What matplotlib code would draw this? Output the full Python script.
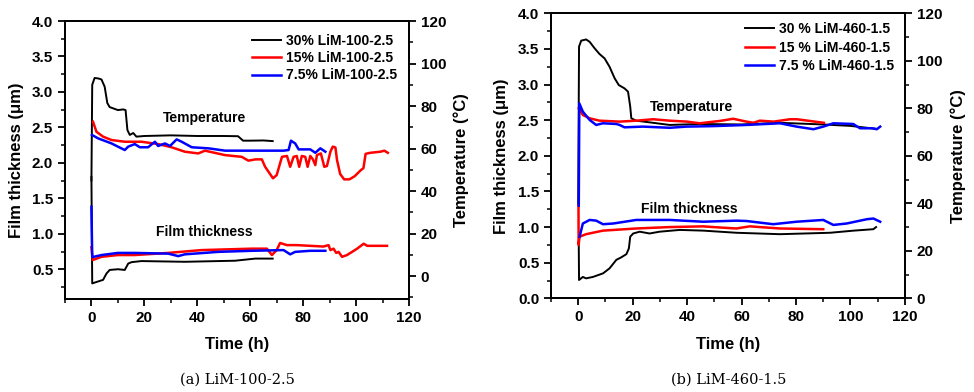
import matplotlib
matplotlib.use("Agg")
import matplotlib.pyplot as plt
from matplotlib.ticker import MultipleLocator

plt.rcParams.update({
    "font.family": "Liberation Sans",
    "font.weight": "bold",
    "font.size": 11,
    "axes.linewidth": 1.3,
    "xtick.direction": "out",
    "ytick.direction": "out",
    "xtick.major.width": 1.3,
    "ytick.major.width": 1.3,
    "xtick.minor.width": 1.1,
    "ytick.minor.width": 1.1,
    "xtick.major.size": 5,
    "ytick.major.size": 5,
    "xtick.minor.size": 3,
    "ytick.minor.size": 3,
})

BLACK, RED, BLUE = "#000000", "#ff0000", "#0000ff"
LW = {BLACK: 1.4, RED: 1.8, BLUE: 1.8}

# ---- (a) LiM-100-2.5 ---------------------------------------------------
a_labels = ["30% LiM-100-2.5", "15% LiM-100-2.5", "7.5% LiM-100-2.5"]

a_t_temp_30 = [0, 0.3, 1.2, 2.5, 3.8, 5, 6, 6.9, 8, 10, 12, 12.9, 13.6, 14.5,
               15.8, 17, 20, 30, 40, 50, 55.4, 57.3, 60, 65, 68.5]
a_temp_30 = [45, 90, 93.2, 93, 92.5, 89.1, 81.4, 79.5, 79, 78.1, 78.4, 78.1,
             68.7, 66.4, 67.3, 65.6, 65.9, 66.2, 65.9, 65.9, 65.8, 63.7, 63.7,
             63.8, 63.5]

a_t_temp_15 = [0.6, 1.9, 4.4, 7.6, 12.6, 18.9, 25.2, 30.3, 35.3, 40.4, 42.9,
               50.5, 56.8, 59.3, 62, 64.4, 65.6, 68.6, 70, 72, 73.9, 75.1,
               76.4, 77.6, 78.5, 79.5, 80.8, 81.7, 82.7, 83.7, 84.6, 85.2,
               86.7, 88, 89, 90.3, 91.2, 92.2, 92.8, 94, 95.5, 97.5, 99.5,
               101.6, 102.8, 103.6, 105.4, 109.2, 110.7, 112]
a_temp_15 = [72.6, 67.9, 65.6, 64, 63.2, 63.2, 62.1, 60.6, 58.5, 57.7, 59,
             56.9, 56.1, 54.3, 54.9, 54.9, 51.5, 46, 47.5, 56.1, 56.5, 51.4,
             56.1, 56.5, 51.4, 56.5, 56.1, 51.4, 56.5, 54.9, 52.2, 56.9,
             57.7, 51.4, 51.8, 58.5, 60.9, 60.5, 54.6, 48, 45.5, 45.5, 47,
             49.6, 50.8, 57.5, 58, 58.5, 59, 58]

a_t_temp_75 = [0.2, 2.5, 7.6, 10, 12.6, 13.9, 16.4, 18.3, 21.4, 24, 25.2,
               27.8, 29.7, 32.2, 34.1, 37.9, 44.2, 50.5, 60.6, 72.6, 74.5,
               75.4, 77, 78.3, 82.7, 84.6, 86.5, 88.4]
a_temp_75 = [66.4, 64.8, 62.4, 60.9, 59.3, 60.9, 62.1, 60.6, 60.6, 63.2, 61.2,
             62.4, 61.2, 64.3, 63.2, 60.6, 60.1, 59, 59, 59, 59.3, 63.7, 62.4,
             59.6, 59.6, 58, 60.1, 58.5]

a_t_th_30 = [0, 0.3, 1.9, 4.4, 5.7, 6.9, 10, 12.6, 13.9, 15.2, 18.9, 35.3,
             54.3, 61.9, 68.5]
a_th_30 = [1.8, 0.3, 0.32, 0.35, 0.44, 0.49, 0.50, 0.49, 0.58, 0.60, 0.615,
           0.605, 0.62, 0.65, 0.65]

a_t_th_15 = [0, 0.5, 3.8, 10, 16.4, 29, 41.7, 60.6, 66.3, 68.2, 70, 71.3,
             73.9, 77.6, 82.7, 87.7, 89.6, 90.3, 91.5, 92.5, 93.4, 94.7,
             96.6, 100.4, 102.9, 104.2, 111.7]
a_th_15 = [0.81, 0.63, 0.675, 0.70, 0.70, 0.73, 0.77, 0.79, 0.79, 0.70, 0.77,
           0.87, 0.84, 0.84, 0.83, 0.82, 0.84, 0.77, 0.79, 0.73, 0.745,
           0.675, 0.70, 0.79, 0.86, 0.83, 0.83]

a_t_th_75 = [0, 0.3, 3.8, 10, 16.4, 29, 32.8, 35.3, 48, 60.6, 72.6, 75.1,
             77, 82.7, 88.4]
a_th_75 = [1.38, 0.67, 0.70, 0.73, 0.73, 0.72, 0.685, 0.71, 0.745, 0.76,
           0.77, 0.71, 0.745, 0.76, 0.76]

# ---- (b) LiM-460-1.5 ---------------------------------------------------
b_labels = ["30 % LiM-460-1.5", "15 % LiM-460-1.5", "7.5 % LiM-460-1.5"]

b_t_temp_30 = [0, 0.3, 1.1, 2.9, 4.2, 6, 7.8, 9.7, 11.5, 13.4, 14.9, 17,
               18.3, 19.1, 19.5, 21.3, 27.5, 33.6, 44.7, 60, 74, 90, 100,
               109.2]
b_temp_30 = [40, 106, 108.5, 109, 108, 105.3, 102.9, 101, 97.5, 92.6, 89.8,
             88.4, 87, 80.7, 75.8, 74.8, 73.9, 73, 73.4, 73.2, 73.9, 73.2,
             72.6, 71.4]

b_t_temp_15 = [0.2, 1.7, 4.2, 7.8, 15.2, 21.3, 27.5, 33.6, 39.9, 44.6, 52.1,
               56.9, 61.8, 64.4, 66.7, 71.8, 77.8, 80.3, 90.2]
b_temp_15 = [80, 77.2, 75.8, 74.8, 74.4, 74.8, 75.4, 74.8, 74.4, 73.7, 74.7,
             75.6, 74.4, 73.9, 74.8, 74.4, 75.4, 75.4, 73.9]

b_t_temp_75 = [0.2, 0.4, 1.7, 4.2, 6.6, 9.1, 14, 15.2, 17, 23.8, 33.6, 39.7,
               49.5, 61.8, 74.1, 80.2, 86.4, 90, 93.7, 101, 103.5, 107.8,
               109.7, 110.9]
b_temp_75 = [39, 82.1, 78.6, 75.1, 73, 73.7, 73.4, 73, 72, 72.3, 71.8, 72.3,
             72.5, 73, 73.7, 72.3, 71.2, 72.3, 73.7, 73.4, 71.6, 71.6, 71.2,
             72.3]

b_t_th_30 = [0.2, 0.3, 1.7, 2.9, 5.4, 9.1, 11.5, 14, 15.8, 17.7, 18.6, 19.1,
             20.2, 22.6, 26.2, 29.9, 37.3, 45.9, 58.1, 74.1, 92.5, 101.2,
             108.4, 109.4]
b_th_30 = [0.75, 0.257, 0.30, 0.28, 0.30, 0.35, 0.42, 0.54, 0.575, 0.62,
           0.70, 0.865, 0.91, 0.935, 0.91, 0.935, 0.96, 0.95, 0.92, 0.90,
           0.92, 0.95, 0.97, 1.0]

b_t_th_15 = [0.1, 0.15, 0.5, 2.9, 9.1, 21.3, 33.6, 45.9, 49.5, 58.1, 63,
             74.1, 90]
b_th_15 = [1.31, 0.75, 0.865, 0.90, 0.95, 0.98, 1.0, 1.01, 1.0, 0.98, 1.01,
           0.98, 0.97]

b_t_th_75 = [0.5, 1.7, 4.2, 6.6, 9.1, 12.9, 21.3, 33.6, 45.9, 58.1, 61.8,
             71.6, 80.2, 90, 93.7, 98.6, 106, 108.4, 110.9]
b_th_75 = [0.865, 1.05, 1.10, 1.09, 1.04, 1.05, 1.10, 1.10, 1.075, 1.09,
           1.085, 1.04, 1.075, 1.10, 1.03, 1.05, 1.11, 1.12, 1.075]


fig = plt.figure(figsize=(9.74, 3.92), dpi=100)


def panel(rect, thick, temps, labels, ylim, ylim_t, yticks_min, leg_xy,
          leg_space, txt_temp, txt_film, caption_xy, caption):
    ax = fig.add_axes(rect)
    ax2 = ax.twinx()
    for (t, v), c in zip(thick, [BLACK, RED, BLUE]):
        ax.plot(t, v, color=c, lw=LW[c])
    handles = []
    for (t, v), c, lab in zip(temps, [BLACK, RED, BLUE], labels):
        h, = ax2.plot(t, v, color=c, lw=LW[c], label=lab)
        handles.append(h)

    ax.set_xlim(-10, 120)
    ax.set_ylim(*ylim)
    ax2.set_ylim(*ylim_t)
    ax.xaxis.set_major_locator(MultipleLocator(20))
    ax.xaxis.set_minor_locator(MultipleLocator(10))
    ax.set_yticks([v / 2 for v in range(yticks_min, 9)])
    ax.yaxis.set_minor_locator(MultipleLocator(0.25))
    ax2.set_yticks(range(0, 121, 20))
    ax2.yaxis.set_minor_locator(MultipleLocator(10))
    ax.set_yticklabels([f"{v / 2:.1f}" for v in range(yticks_min, 9)])

    ax.set_xlabel("Time (h)", fontsize=12, fontweight="bold")
    ax.set_ylabel("Film thickness (\u03bcm)", fontsize=12, fontweight="bold")
    ax2.set_ylabel("Temperature (\u00b0C)", fontsize=12, fontweight="bold")
    ax.xaxis.set_label_coords(0.5, -0.135)
    ax.yaxis.set_label_coords(-0.12, 0.5)
    ax2.yaxis.set_label_coords(1.128, 0.5)

    ax2.legend(handles=handles, loc="upper left", bbox_to_anchor=leg_xy,
               frameon=False, fontsize=10, handlelength=2.1,
               handletextpad=0.35, labelspacing=leg_space, borderpad=0,
               borderaxespad=0)
    ax2.text(*txt_temp, "Temperature", transform=ax.transAxes, fontsize=10,
             fontweight="bold", ha="center", va="center")
    ax2.text(*txt_film, "Film thickness", transform=ax.transAxes, fontsize=10,
             fontweight="bold", ha="center", va="center")
    fig.text(*caption_xy, caption, family="DejaVu Serif", fontweight="normal",
             fontsize=10.5, ha="center", va="center")


panel([0.0667, 0.2372, 0.3532, 0.7092],
      [(a_t_th_30, a_th_30), (a_t_th_15, a_th_15), (a_t_th_75, a_th_75)],
      [(a_t_temp_30, a_temp_30), (a_t_temp_15, a_temp_15),
       (a_t_temp_75, a_temp_75)],
      a_labels, (0.08, 4.0), (-10.8, 120), 1, (0.543, 0.955), 0.25,
      (0.405, 0.651), (0.405, 0.241), (237 / 974, 1 - 380 / 392),
      "(a) LiM-100-2.5")

panel([0.5657, 0.239, 0.3634, 0.727],
      [(b_t_th_30, b_th_30), (b_t_th_15, b_th_15), (b_t_th_75, b_th_75)],
      [(b_t_temp_30, b_temp_30), (b_t_temp_15, b_temp_15),
       (b_t_temp_75, b_temp_75)],
      b_labels, (0.0, 4.0), (0, 120), 0, (0.548, 0.970), 0.34,
      (0.398, 0.672), (0.390, 0.313), (729 / 974, 1 - 380 / 392),
      "(b) LiM-460-1.5")

fig.savefig("out.png", dpi=100)
